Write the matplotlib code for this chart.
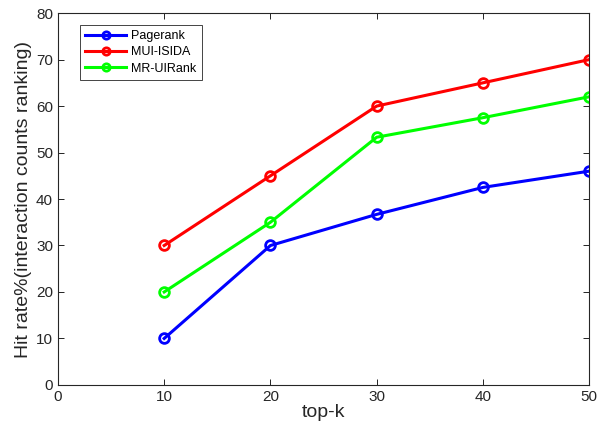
import numpy as np
import matplotlib
matplotlib.use("Agg")
import matplotlib.pyplot as plt

plt.rcParams["font.family"] = ["Liberation Sans", "DejaVu Sans"]

top_k = [10, 20, 30, 40, 50]
pagerank = [10, 30, 36.7, 42.5, 46]
mui_isida = [30, 45, 60, 65, 70]
mr_uirank = [20, 35, 53.3, 57.5, 62]

series = [
    ("Pagerank", pagerank, "#0000ff"),
    ("MUI-ISIDA", mui_isida, "#ff0000"),
    ("MR-UIRank", mr_uirank, "#00ff00"),
]

fig = plt.figure(figsize=(5.97, 4.23), dpi=100)
ax = fig.add_axes([0.097, 0.090, 0.890, 0.879])

for label, vals, color in series:
    ax.plot(top_k, vals, color=color, lw=2.2, marker="o", ms=7,
            mfc="none", mec=color, mew=2, label=label)

ax.set_xlim(0, 50)
ax.set_ylim(0, 80)
ax.set_xticks(range(0, 51, 10))
ax.set_yticks(range(0, 81, 10))
ax.tick_params(direction="in", top=True, right=True, labelsize=11,
               labelcolor="#262626", length=4, width=0.6)
for sp in ax.spines.values():
    sp.set_linewidth(0.8)
    sp.set_color("#262626")

ax.set_xlabel("top-k", fontsize=14, color="#262626", labelpad=0)
ax.set_ylabel("Hit rate%(interaction counts ranking)", fontsize=14,
              color="#262626", labelpad=3)

leg = ax.legend(loc="upper left", bbox_to_anchor=(0.03, 0.985), fontsize=9,
                fancybox=False, edgecolor="#262626", framealpha=1,
                handlelength=3.3, borderpad=0.4, labelspacing=0.35,
                handletextpad=0.4, markerscale=0.75)
leg.get_frame().set_linewidth(0.6)

fig.savefig("out.png", dpi=100)
